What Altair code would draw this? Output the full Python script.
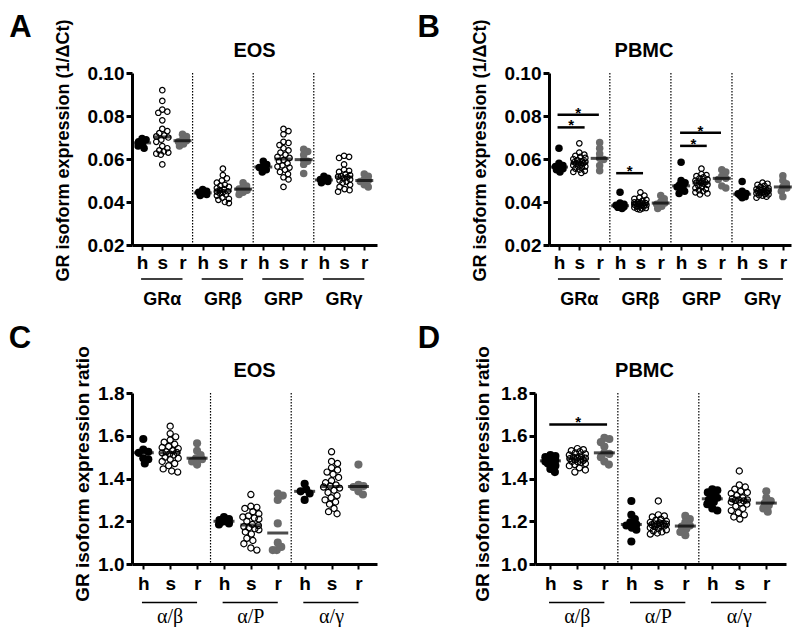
import altair as alt
import pandas as pd

FONT = "Liberation Sans"
SERIF = "Liberation Serif"
GRAY = "#6b6b6b"
SUBJECTS = ["h", "s", "r"]

# ---------------- Panel A: EOS, 1/dCt ----------------
A_GRa = {"h": [0.0695, 0.069, 0.068, 0.067, 0.066, 0.065],
         "s": [0.092, 0.087, 0.083, 0.082, 0.0815, 0.078, 0.074, 0.073, 0.072, 0.071, 0.0705,
               0.070, 0.069, 0.068, 0.066, 0.065, 0.064, 0.0635, 0.063, 0.062, 0.0625, 0.0575],
         "r": [0.0715, 0.0705, 0.069, 0.0685, 0.068, 0.067, 0.066]}
A_GRb = {"h": [0.0458, 0.045, 0.0445, 0.044, 0.0435, 0.043],
         "s": [0.0555, 0.0525, 0.051, 0.050, 0.049, 0.048, 0.0475, 0.047, 0.0465, 0.046, 0.0455,
               0.045, 0.0448, 0.0445, 0.044, 0.0435, 0.043, 0.042, 0.0415, 0.041, 0.040, 0.0395],
         "r": [0.049, 0.0475, 0.0465, 0.046, 0.0455, 0.0445, 0.0435]}
A_GRP = {"h": [0.059, 0.0575, 0.0565, 0.056, 0.055, 0.054],
         "s": [0.074, 0.073, 0.0715, 0.068, 0.0675, 0.0665, 0.065, 0.064, 0.063, 0.062, 0.061, 0.0605,
               0.0595, 0.059, 0.058, 0.057, 0.0565, 0.056, 0.055, 0.054, 0.053, 0.0515, 0.0505, 0.047],
         "r": [0.0645, 0.0635, 0.062, 0.0597, 0.059, 0.0575, 0.0533]}
A_GRg = {"h": [0.052, 0.051, 0.0505, 0.050, 0.0495, 0.049],
         "s": [0.0615, 0.061, 0.0605, 0.0575, 0.055, 0.0545, 0.054, 0.053, 0.0525, 0.052, 0.0518,
               0.0515, 0.051, 0.0505, 0.050, 0.0495, 0.049, 0.048, 0.047, 0.046, 0.0455, 0.0448],
         "r": [0.053, 0.052, 0.0505, 0.050, 0.0495, 0.048, 0.047]}

# ---------------- Panel B: PBMC, 1/dCt ----------------
B_GRa = {"h": [0.065, 0.058, 0.057, 0.0565, 0.056, 0.0555, 0.055, 0.054],
         "s": [0.0673, 0.063, 0.062, 0.0615, 0.061, 0.0605, 0.060, 0.0595, 0.059, 0.0588, 0.0585, 0.0583,
               0.058, 0.0578, 0.0575, 0.057, 0.0565, 0.0565, 0.056, 0.0555, 0.055, 0.0545, 0.054, 0.0535],
         "r": [0.0677, 0.065, 0.0625, 0.0603, 0.0598, 0.057, 0.0545]}
B_GRb = {"h": [0.0445, 0.0395, 0.039, 0.0385, 0.038, 0.0378, 0.0375, 0.037],
         "s": [0.0445, 0.043, 0.042, 0.0415, 0.041, 0.0405, 0.040, 0.0398, 0.0395, 0.0395, 0.0393, 0.0392,
               0.039, 0.0388, 0.0385, 0.0385, 0.0383, 0.038, 0.0378, 0.0375, 0.0372, 0.037, 0.0368, 0.0365],
         "r": [0.043, 0.0415, 0.040, 0.0395, 0.039, 0.038, 0.037]}
B_GRP = {"h": [0.0585, 0.050, 0.049, 0.048, 0.0475, 0.047, 0.046, 0.045, 0.044],
         "s": [0.0555, 0.053, 0.0525, 0.052, 0.0515, 0.051, 0.0505, 0.050, 0.0498, 0.0495, 0.0492, 0.049,
               0.0488, 0.0485, 0.048, 0.0475, 0.047, 0.0465, 0.046, 0.0455, 0.045, 0.0445, 0.044, 0.0435],
         "r": [0.055, 0.054, 0.052, 0.051, 0.0505, 0.0475, 0.0465]}
B_GRg = {"h": [0.0495, 0.045, 0.044, 0.0438, 0.0435, 0.043, 0.0425, 0.042],
         "s": [0.049, 0.0485, 0.048, 0.0475, 0.047, 0.0465, 0.046, 0.046, 0.0458, 0.0455, 0.0455, 0.0453,
               0.045, 0.0448, 0.0445, 0.0445, 0.0443, 0.044, 0.0437, 0.0435, 0.0432, 0.043, 0.0425, 0.042],
         "r": [0.0522, 0.050, 0.0485, 0.047, 0.0465, 0.045, 0.0425]}
B_SIG = [(0.42, 2.45, 0.0806), (0.42, 1.75, 0.0747), (3.3, 4.62, 0.0534),
         (6.44, 8.45, 0.0722), (6.44, 7.75, 0.0661)]

# ---------------- Panel C: EOS, ratios ----------------
C_ab = {"h": [1.585, 1.535, 1.525, 1.52, 1.495, 1.49, 1.47],
        "s": [1.645, 1.61, 1.595, 1.58, 1.57, 1.56, 1.55, 1.545, 1.54, 1.53, 1.525, 1.522,
              1.52, 1.515, 1.51, 1.50, 1.495, 1.49, 1.48, 1.47, 1.46, 1.445, 1.435, 1.43],
        "r": [1.565, 1.53, 1.51, 1.495, 1.49, 1.48, 1.465]}
C_aP = {"h": [1.22, 1.21, 1.205, 1.2, 1.198, 1.19, 1.185],
        "s": [1.325, 1.27, 1.265, 1.26, 1.245, 1.235, 1.225, 1.22, 1.215, 1.21, 1.2, 1.185,
              1.18, 1.175, 1.17, 1.165, 1.16, 1.15, 1.14, 1.12, 1.11, 1.095, 1.075, 1.065],
        "r": [1.33, 1.32, 1.30, 1.19, 1.10, 1.08, 1.065, 1.065]}
C_ag = {"h": [1.375, 1.35, 1.34, 1.33, 1.30],
        "s": [1.525, 1.48, 1.47, 1.45, 1.44, 1.43, 1.42, 1.405, 1.39, 1.38, 1.37, 1.365,
              1.36, 1.355, 1.345, 1.335, 1.32, 1.31, 1.30, 1.29, 1.28, 1.26, 1.245, 1.235],
        "r": [1.465, 1.37, 1.365, 1.36, 1.34, 1.325]}

# ---------------- Panel D: PBMC, ratios ----------------
D_ab = {"h": [1.51, 1.505, 1.50, 1.495, 1.49, 1.485, 1.48, 1.475, 1.47, 1.46, 1.445, 1.43],
        "s": [1.54, 1.535, 1.53, 1.525, 1.52, 1.515, 1.51, 1.505, 1.50, 1.497, 1.495, 1.493,
              1.49, 1.488, 1.485, 1.48, 1.478, 1.475, 1.47, 1.465, 1.46, 1.45, 1.44, 1.43],
        "r": [1.59, 1.585, 1.57, 1.55, 1.52, 1.515, 1.50, 1.48, 1.465]}
D_aP = {"h": [1.295, 1.23, 1.21, 1.195, 1.185, 1.18, 1.17, 1.16, 1.105],
        "s": [1.295, 1.23, 1.225, 1.22, 1.21, 1.205, 1.2, 1.195, 1.192, 1.19, 1.188, 1.186,
              1.185, 1.184, 1.18, 1.178, 1.175, 1.17, 1.165, 1.16, 1.155, 1.15, 1.145, 1.14],
        "r": [1.225, 1.21, 1.195, 1.18, 1.175, 1.165, 1.15, 1.135]}
D_ag = {"h": [1.35, 1.345, 1.335, 1.32, 1.31, 1.30, 1.29, 1.28, 1.26, 1.25],
        "s": [1.435, 1.37, 1.36, 1.35, 1.34, 1.335, 1.33, 1.32, 1.31, 1.305, 1.30, 1.30,
              1.298, 1.295, 1.29, 1.285, 1.28, 1.27, 1.26, 1.25, 1.24, 1.23, 1.22, 1.21],
        "r": [1.34, 1.31, 1.295, 1.285, 1.275, 1.26, 1.245]}
D_SIG = [(0.53, 2.67, 1.653)]

EXPR_TICKS = [0.02, 0.04, 0.06, 0.08, 0.10]
RATIO_TICKS = [1.0, 1.2, 1.4, 1.6, 1.8]
EXPR_TITLE = "GR isoform expression (1/ΔCt)"
RATIO_TITLE = "GR isoform expression ratio"


def swarm(vals, px_per_val, sep, lim):
    """Deterministic, bounded beeswarm: horizontal pixel offsets for one column of points."""
    order = sorted(range(len(vals)), key=lambda i: -vals[i])
    cands = [0.0]
    j = 1
    while j * 0.5 <= lim:
        cands += [j * 0.5, -j * 0.5]
        j += 1
    placed, out = [], [0.0] * len(vals)
    for i in order:
        yp = vals[i] * px_per_val
        best, bestd = 0.0, -1.0
        for xo in cands:
            md = min((((xo - px) ** 2 + (yp - py) ** 2) ** 0.5 for px, py in placed),
                     default=1e9)
            if md >= sep:
                best = xo
                break
            if md > bestd:
                bestd, best = md, xo
        placed.append((best, yp))
        out[i] = best
    return out


def panel(p):
    W, H = p["W"], p["H"]
    ylo, yhi = p["ydom"]
    xmax, x0 = p["xmax"], p["x0"]
    ux = W / xmax
    uy = H / (yhi - ylo)
    ng = len(p["groups"])
    rows = []
    for g, (gname, gdata) in enumerate(p["groups"]):
        for k, subj in enumerate(SUBJECTS):
            vals = gdata[subj]
            if subj == "s":
                offs = swarm(vals, uy, p["sep_open"], p["lim_open"])
            else:
                offs = swarm(vals, uy, p["sep_fill"], p["lim_fill"])
            pos = g * 3 + k + x0
            for v, o in zip(vals, offs):
                rows.append({"pos": pos, "x": pos + o / ux, "v": v, "subj": subj})
    df = pd.DataFrame(rows)

    xs = alt.Scale(domain=[0, xmax], nice=False, zero=False)
    ys = alt.Scale(domain=[ylo, yhi], nice=False, zero=False)
    tickvals = [g * 3 + k + x0 for g in range(ng) for k in range(3)]
    lab = f"round(datum.value - {x0}) % 3"
    xaxis = alt.Axis(values=tickvals, title=None,
                     labelExpr=f"({lab}) == 0 ? 'h' : (({lab}) == 1 ? 's' : 'r')",
                     labelFontSize=19, labelPadding=p["xlp"], tickSize=5, tickWidth=2,
                     domainWidth=3, labelFlush=False, labelOverlap=False, labelAngle=0)
    yaxis = alt.Axis(values=p["yticks"], format=p["yfmt"], title=p["ytitle"],
                     labelFontSize=19, labelPadding=2, tickSize=6, tickWidth=3, domainWidth=3,
                     labelFlush=False, labelOverlap=False,
                     titleFontSize=p["tfs"], titlePadding=p["tpad"], titleY=H / 2 + p["tdy"])

    def X(f):
        return alt.X(f"{f}:Q", scale=xs, axis=xaxis)

    def Y(f):
        return alt.Y(f"{f}:Q", scale=ys, axis=yaxis)

    seps = pd.DataFrame({"sx": [g * 3 + x0 - 0.5 for g in range(1, ng)]})
    layers = []
    layers.append(alt.Chart(seps).mark_rule(color="black", strokeWidth=1.2, strokeDash=[1.5, 1.5])
                  .encode(x=X("sx")))
    layers.append(alt.Chart(df[df.subj == "h"]).mark_circle(color="black", opacity=1,
                                                            size=p["sfill"])
                  .encode(x=X("x"), y=Y("v")))
    layers.append(alt.Chart(df[df.subj == "s"]).mark_point(shape="circle", filled=False, color="black",
                                                           opacity=1, strokeWidth=1.2, size=p["sopen"])
                  .encode(x=X("x"), y=Y("v")))
    layers.append(alt.Chart(df[df.subj == "r"]).mark_circle(color=GRAY, opacity=1, size=p["sfill"])
                  .encode(x=X("x"), y=Y("v")))
    layers.append(alt.Chart(df).transform_aggregate(med="median(v)", groupby=["pos"])
                  .mark_tick(orient="horizontal", thickness=3, size=p["tick"], color="black")
                  .encode(x=X("pos"), y=Y("med")))

    if p["sig"]:
        sig = pd.DataFrame(p["sig"], columns=["x1", "x2", "y"])
        sig["xm"] = (sig.x1 + sig.x2) / 2
        layers.append(alt.Chart(sig).mark_rule(color="black", strokeWidth=2.5)
                      .encode(x=X("x1"), x2="x2:Q", y=Y("y")))
        layers.append(alt.Chart(sig).mark_text(text="*", fontSize=15, fontWeight="bold", font=FONT,
                                               baseline="alphabetic", align="center", dy=3,
                                               color="black")
                      .encode(x=X("xm"), y=Y("y")))

    ul = pd.DataFrame({"x1": [g * 3 + x0 - 0.05 for g in range(ng)],
                       "x2": [g * 3 + x0 + 2 for g in range(ng)],
                       "xc": [g * 3 + x0 + 1 for g in range(ng)],
                       "label": [gn for gn, _ in p["groups"]]})
    layers.append(alt.Chart(ul).mark_rule(color="black", strokeWidth=1.5)
                  .encode(x=X("x1"), x2="x2:Q", y=alt.value(H + p["ul"])))
    layers.append(alt.Chart(ul).mark_text(font=p["gfont"], fontSize=p["gfs"], fontWeight=p["gfw"],
                                          baseline="alphabetic", align="center", color="black")
                  .encode(x=X("xc"), y=alt.value(H + p["gl"]), text="label:N"))

    layers.append(alt.Chart(pd.DataFrame({"t": [p["title"]]}))
                  .mark_text(font=FONT, fontSize=20, fontWeight="bold", align="center",
                             baseline="alphabetic", color="black")
                  .encode(x=alt.value(W / 2 + p["tdx"]), y=alt.value(-16), text="t:N"))
    layers.append(alt.Chart(pd.DataFrame({"t": [p["letter"]]}))
                  .mark_text(font=FONT, fontSize=31, fontWeight="bold", align="left",
                             baseline="top", color="black")
                  .encode(x=alt.value(p["lx"]), y=alt.value(p["ly"]), text="t:N"))
    return alt.layer(*layers).properties(width=W, height=H)


common_expr = dict(ydom=(0.02, 0.10), yticks=EXPR_TICKS, yfmt=".2f", ytitle=EXPR_TITLE, H=172,
                   sep_fill=4.5, lim_fill=4, sep_open=5.0, lim_open=6,
                   sfill=56, sopen=30, tick=18, xlp=3, tfs=18, tdy=-9,
                   ul=34, gl=60, gfont=FONT, gfs=18, gfw="bold", ly=-60)
common_ratio = dict(ydom=(1.0, 1.8), yticks=RATIO_TICKS, yfmt=".1f", ytitle=RATIO_TITLE, H=171,
                    sep_fill=5.5, lim_fill=5, sep_open=6.0, lim_open=8,
                    sfill=66, sopen=38, tick=21, xlp=5, tfs=19, tdy=-5,
                    ul=38.5, gl=58.5, gfont=SERIF, gfs=20, gfw="normal", ly=-69)

PA = dict(common_expr, letter="A", title="EOS", W=245, xmax=12.13, x0=0.5, tpad=15, tdx=0,
          lx=-122.7, sig=[], groups=[("GRα", A_GRa), ("GRβ", A_GRb), ("GRP", A_GRP), ("GRγ", A_GRg)])
PB = dict(common_expr, letter="B", title="PBMC", W=242, xmax=11.89, x0=0.49, tpad=15, tdx=-26,
          lx=-131.6, sig=B_SIG, groups=[("GRα", B_GRa), ("GRβ", B_GRb), ("GRP", B_GRP), ("GRγ", B_GRg)])
PC = dict(common_ratio, letter="C", title="EOS", W=245, xmax=9.11, x0=0.42, tpad=5, tdx=0,
          lx=-123.3, sig=[], groups=[("α/β", C_ab), ("α/P", C_aP), ("α/γ", C_ag)])
PD = dict(common_ratio, letter="D", title="PBMC", W=251, xmax=9.3, x0=0.57, tpad=8, tdx=-16,
          lx=-117.3, sig=D_SIG, groups=[("α/β", D_ab), ("α/P", D_aP), ("α/γ", D_ag)])

row1 = alt.hconcat(panel(PA), panel(PB), spacing=40)
row2 = alt.hconcat(panel(PC), panel(PD), spacing=40)
chart = (alt.vconcat(row1, row2, spacing=14)
         .properties(padding={"left": 0, "top": 4, "right": 0, "bottom": 0}, background="white")
         .configure_view(stroke=None)
         .configure_axis(domainColor="black", tickColor="black", labelColor="black",
                         titleColor="black", grid=False, labelFont=FONT, titleFont=FONT,
                         labelFontWeight="bold", titleFontWeight="bold"))

chart.save("out.html", embed_options={"renderer": "svg", "actions": False})
